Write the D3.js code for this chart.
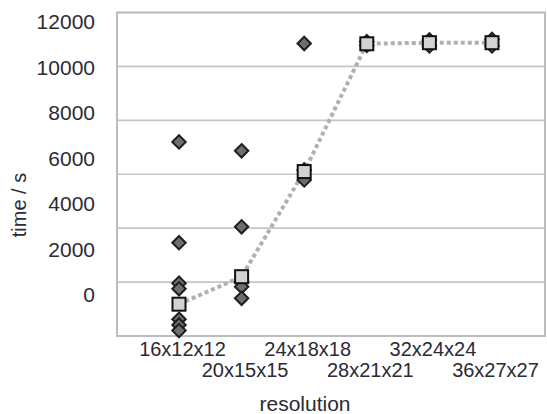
<!DOCTYPE html>
<html>
<head>
<meta charset="utf-8">
<script src="https://cdn.jsdelivr.net/npm/d3@7"></script>
<style>
    body { margin: 0; background: #fff; }
    svg { display: block; font-family: "Liberation Sans", Arial, sans-serif; }
    .tick text { fill: #2b2b33; }
</style>
</head>
<body>
<div id="chart"></div>
<script>
// Data
const resolutions = ['16x12x12', '20x15x15', '24x18x18', '28x21x21', '32x24x24', '36x27x27'];

// individual runs (time in s) per resolution
const runs = [
    [7200, 3460, 1960, 1750, 620, 410, 200],
    [6870, 4050, 2000, 1830, 1400],
    [10850, 6160, 5790],
    [10920, 10780],
    [10980, 10760],
    [11000, 10760]
];

// averaged time per resolution
const meanTime = [1180, 2200, 6100, 10840, 10880, 10880];

const yTicks = [0, 2000, 4000, 6000, 8000, 10000, 12000];

function main() {
    const w = 547;
    const h = 414;
    const left = 117, right = 545, top = 12.5, bottom = 336;

    const svg = d3.select('#chart')
        .append('svg')
        .attr('width', w)
        .attr('height', h);

    // Scales
    const xScale = d3.scalePoint()
        .domain(resolutions)
        .range([179, 492]);

    const yScale = d3.scaleLinear()
        .domain([0, 12000])
        .range([bottom, top]);

    // the tick labels in the original sit on a tighter spacing than the grid
    const labelScale = d3.scaleLinear()
        .domain([0, 12000])
        .range([295, 22]);

    // Grid
    svg.append('g')
        .selectAll('line')
        .data(yTicks.slice(1))
        .enter()
        .append('line')
        .attr('x1', left)
        .attr('x2', right)
        .attr('y1', d => yScale(d))
        .attr('y2', d => yScale(d))
        .attr('stroke', '#c6c6c6')
        .attr('stroke-width', 1.6);

    // Frame
    svg.append('rect')
        .attr('x', left)
        .attr('y', top)
        .attr('width', right - left)
        .attr('height', bottom - top)
        .attr('fill', 'none')
        .attr('stroke', '#bdbdbd')
        .attr('stroke-width', 2);

    // Axes
    const yAxis = d3.axisLeft(labelScale)
        .tickValues(yTicks)
        .tickFormat(d3.format('d'))
        .tickSize(0)
        .tickPadding(22);

    svg.append('g')
        .attr('transform', `translate(${left}, 0)`)
        .call(yAxis)
        .call(g => g.select('.domain').remove())
        .selectAll('text')
        .attr('font-size', 21)
        .attr('font-family', '"Liberation Sans", Arial, sans-serif');

    const xAxis = d3.axisBottom(xScale)
        .tickSize(0)
        .tickPadding(6);

    svg.append('g')
        .attr('transform', `translate(3, ${bottom})`)
        .call(xAxis)
        .call(g => g.select('.domain').remove())
        .selectAll('text')
        .attr('font-size', 20)
        .attr('font-family', '"Liberation Sans", Arial, sans-serif')
        .attr('y', (d, i) => i % 2 ? 27 : 6);

    // Axis titles
    svg.append('text')
        .attr('x', 305)
        .attr('y', 411)
        .attr('text-anchor', 'middle')
        .attr('font-size', 21)
        .attr('fill', '#2b2b33')
        .text('resolution');

    svg.append('text')
        .attr('transform', 'translate(26, 205) rotate(-90)')
        .attr('text-anchor', 'middle')
        .attr('font-size', 20)
        .attr('fill', '#2b2b33')
        .text('time / s');

    // Mean line
    const line = d3.line()
        .x((d, i) => xScale(resolutions[i]))
        .y(d => yScale(d));

    svg.append('path')
        .datum(meanTime)
        .attr('d', line)
        .attr('fill', 'none')
        .attr('stroke', '#b0b0b0')
        .attr('stroke-width', 4)
        .attr('stroke-dasharray', '4,3');

    // Individual runs
    const points = runs.flatMap((vals, i) => vals.map(v => ({ res: resolutions[i], t: v })));

    svg.append('g')
        .selectAll('path')
        .data(points)
        .enter()
        .append('path')
        .attr('d', d3.symbol().type(d3.symbolDiamond2).size(115))
        .attr('transform', d => `translate(${xScale(d.res)}, ${yScale(d.t)})`)
        .attr('fill', '#6e6e6e')
        .attr('stroke', '#1e1e1e')
        .attr('stroke-width', 2);

    // Means
    svg.append('g')
        .selectAll('rect')
        .data(meanTime)
        .enter()
        .append('rect')
        .attr('x', (d, i) => xScale(resolutions[i]) - 6.5)
        .attr('y', d => yScale(d) - 6.5)
        .attr('width', 13)
        .attr('height', 13)
        .attr('fill', '#d2d2d2')
        .attr('stroke', '#111')
        .attr('stroke-width', 2);
}

main();
</script>
</body>
</html>
